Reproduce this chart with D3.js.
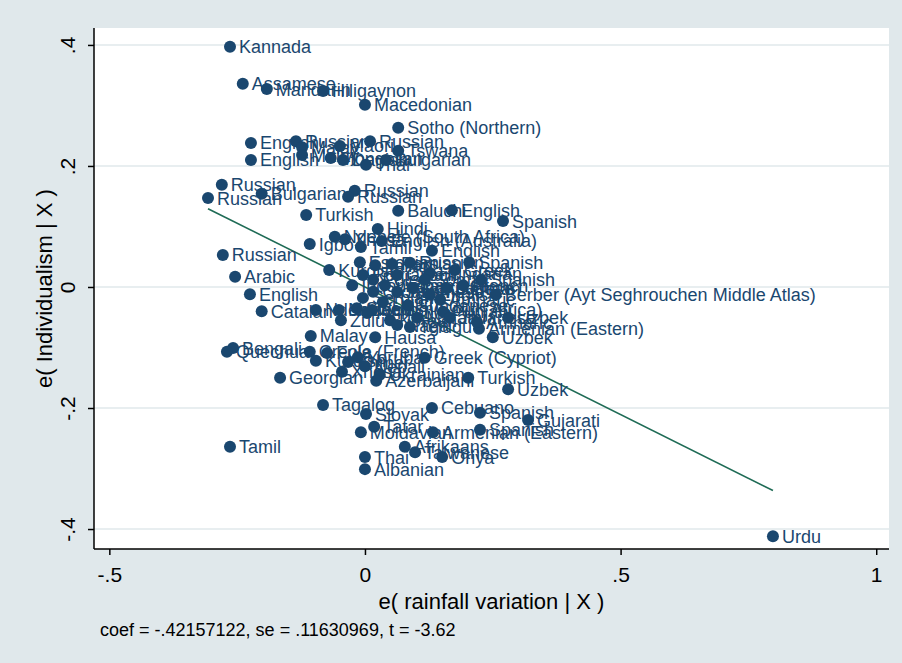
<!DOCTYPE html>
<html>
<head>
<meta charset="utf-8">
<script src="https://cdn.jsdelivr.net/npm/d3@7"></script>
<style>
  body { margin: 0; background: #e0e8eb; }
  svg { display: block; font-family: "Liberation Sans", Arial, Helvetica, sans-serif; }
</style>
</head>
<body>
<div id="chart"></div>
<script>
// residuals
const languages = [
  "Kannada", "Assamese", "Mandarin", "Hiligaynon", "Macedonian", "Sotho (Northern)",
  "English", "Russian", "Malay", "Russian", "Maori", "Tswana",
  "English", "Malay", "Mongolian", "Danish", "Bulgarian", "Thai",
  "Russian", "Russian", "Bulgarian", "Russian", "Russian", "Turkish",
  "Baluchi", "English", "Spanish", "Hindi", "Igbo", "Ndebele (South Africa)",
  "Xhosa", "English (Australia)", "Tamil", "English", "Russian", "Arabic",
  "English", "Catalan", "Spanish", "Spanish", "Berber (Ayt Seghrouchen Middle Atlas)", "Uzbek",
  "Armenian (Eastern)", "Uzbek", "Kurdish", "Estonian", "Persian", "Malay",
  "Hausa", "Bengali", "Quechua", "Creole (French)", "Fula", "Kurdish",
  "Yoruba", "Khmer", "Xhosa", "Nepali", "Ukrainian", "Greek (Cypriot)",
  "Georgian", "Azerbaijani", "Turkish", "Uzbek", "Tagalog", "Slovak",
  "Cebuano", "Spanish", "Gujarati", "Tatar", "Moldavian", "Armenian (Eastern)",
  "Spanish", "Afrikaans", "Taiwanese", "Oriya", "Thai", "Albanian",
  "Tamil", "Urdu",
  // dense middle cluster
  "Italian", "Russian", "Romanian", "Polish", "Czech", "Hungarian",
  "Serbian", "Croatian", "Dutch", "Ndebele", "Swedish", "Finnish",
  "Korean", "Naga", "Telugu", "Marathi", "Punjabi", "Javanese",
  "Amharic", "English", "German", "French", "Portuguese", "Japanese",
  "Ndebele", "Zulu", "Sotho (South Africa)", "Vietnamese", "Indonesian", "Sundanese",
  "Somali", "Amharic", "Greek"
];
const eRainfall = [
  -0.264, -0.239, -0.192, -0.082, 0.000, 0.065,
  -0.223, -0.135, -0.123, 0.010, -0.049, 0.065,
  -0.223, -0.123, -0.067, -0.043, 0.041, 0.002,
  -0.280, -0.307, -0.202, -0.020, -0.033, -0.115,
  0.065, 0.170, 0.270, 0.025, -0.108, -0.059,
  -0.039, 0.033, -0.008, 0.131, -0.278, -0.254,
  -0.225, -0.202, 0.204, 0.227, 0.256, 0.280,
  0.223, 0.250, -0.070, -0.010, 0.053, -0.106,
  0.020, -0.258, -0.270, -0.108, -0.074, -0.096,
  -0.014, -0.033, -0.045, 0.000, 0.029, 0.117,
  -0.166, 0.022, 0.202, 0.280, -0.082, 0.002,
  0.131, 0.225, 0.319, 0.018, -0.008, 0.133,
  0.225, 0.078, 0.098, 0.151, 0.000, 0.000,
  -0.264, 0.798,
  0.020, 0.088, -0.004, 0.016, 0.063, 0.127,
  -0.004, 0.016, 0.035, -0.051, -0.016, 0.004,
  0.049, 0.063, 0.088, 0.102, 0.153, 0.166,
  0.219, 0.127, 0.160, 0.192, 0.094, 0.063,
  -0.096, -0.047, 0.014, 0.039, -0.025, 0.084,
  0.117, 0.147, 0.176
];
const eIndividualism = [
  0.397, 0.336, 0.327, 0.324, 0.301, 0.263,
  0.238, 0.241, 0.231, 0.241, 0.233, 0.225,
  0.210, 0.218, 0.213, 0.210, 0.210, 0.202,
  0.169, 0.147, 0.154, 0.159, 0.149, 0.119,
  0.126, 0.127, 0.109, 0.096, 0.071, 0.083,
  0.079, 0.076, 0.066, 0.060, 0.053, 0.017,
  -0.012, -0.040, 0.041, 0.012, -0.013, -0.051,
  -0.069, -0.083, 0.028, 0.041, 0.038, -0.081,
  -0.083, -0.101, -0.107, -0.107, -0.109, -0.122,
  -0.116, -0.124, -0.140, -0.131, -0.145, -0.117,
  -0.150, -0.155, -0.150, -0.169, -0.195, -0.210,
  -0.200, -0.208, -0.220, -0.231, -0.240, -0.240,
  -0.236, -0.264, -0.273, -0.281, -0.281, -0.301,
  -0.264, -0.412,
  0.036, 0.040, 0.020, 0.012, 0.020, 0.023,
  -0.018, -0.008, -0.025, -0.038, -0.035, -0.043,
  -0.055, -0.063, -0.066, -0.051, -0.041, -0.051,
  -0.058, -0.013, -0.002, 0.003, -0.002, -0.008,
  -0.038, -0.055, -0.038, 0.003, 0.003, -0.030,
  0.012, -0.021, 0.028
];
const coef = -0.42157122;
const xTicks = [-0.5, 0, 0.5, 1];
const xTickLabels = ["-.5", "0", ".5", "1"];
const yTicks = [-0.4, -0.2, 0, 0.2, 0.4];
const yTickLabels = ["-.4", "-.2", "0", ".2", ".4"];
const noteText = "coef = -.42157122, se = .11630969, t = -3.62";

const W = 902, H = 663;
const plot = { left: 94, right: 889, top: 28, bottom: 549 };
const navy = "#1a476f", bg = "#e0e8eb";

const svg = d3.select("#chart").append("svg")
  .attr("width", W).attr("height", H);

svg.append("rect").attr("width", W).attr("height", H).attr("fill", bg);
svg.append("rect")
  .attr("x", plot.left).attr("y", plot.top)
  .attr("width", plot.right - plot.left).attr("height", plot.bottom - plot.top)
  .attr("fill", "#fff");

const x = d3.scaleLinear().domain([-0.530, 1.025]).range([plot.left, plot.right]);
const y = d3.scaleLinear().domain([-0.433, 0.428]).range([plot.bottom, plot.top]);

// gridlines
svg.append("g").selectAll("line").data(yTicks).join("line")
  .attr("x1", plot.left).attr("x2", plot.right)
  .attr("y1", d => y(d)).attr("y2", d => y(d))
  .attr("stroke", bg).attr("stroke-width", 1.5);

const points = languages.map((name, i) => ({ name, x: eRainfall[i], y: eIndividualism[i] }));

// fitted line through the origin, over the data range
const xr = d3.extent(eRainfall);
svg.append("line")
  .attr("x1", x(xr[0])).attr("y1", y(coef * xr[0]))
  .attr("x2", x(xr[1])).attr("y2", y(coef * xr[1]))
  .attr("stroke", "#1e6b55").attr("stroke-width", 1.6);

const pts = svg.append("g");
pts.selectAll("circle").data(points).join("circle")
  .attr("cx", d => x(d.x)).attr("cy", d => y(d.y))
  .attr("r", 6).attr("fill", navy);

pts.selectAll("text").data(points).join("text")
  .attr("x", d => x(d.x) + 9).attr("y", d => y(d.y))
  .attr("dy", "0.36em")
  .attr("font-size", 18).attr("fill", navy)
  .text(d => d.name);

// axes
const xAxis = d3.axisBottom(x).tickValues(xTicks)
  .tickFormat((d, i) => xTickLabels[i]).tickSize(6).tickPadding(12);
const gx = svg.append("g").attr("transform", `translate(0,${plot.bottom})`).call(xAxis);
gx.select(".domain").attr("d", `M${plot.left},0H${plot.right}`).attr("stroke-width", 1.5);
gx.selectAll(".tick line").attr("stroke-width", 1.5);
gx.selectAll(".tick text").attr("font-size", 21).attr("fill", "#000")
  .attr("font-family", "Liberation Sans, Arial, sans-serif");

const yAxis = d3.axisLeft(y).tickValues(yTicks)
  .tickFormat((d, i) => yTickLabels[i]).tickSize(6);
const gy = svg.append("g").attr("transform", `translate(${plot.left},0)`).call(yAxis);
gy.select(".domain").attr("d", `M0,${plot.top}V${plot.bottom}`).attr("stroke-width", 1.5);
gy.selectAll(".tick line").attr("stroke-width", 1.5);
gy.selectAll(".tick text")
  .attr("x", 0).attr("dy", 0)
  .attr("transform", "translate(-19,0) rotate(-90)")
  .attr("text-anchor", "middle")
  .attr("font-size", 21).attr("fill", "#000")
  .attr("font-family", "Liberation Sans, Arial, sans-serif");

// titles
svg.append("text")
  .attr("x", (plot.left + plot.right) / 2).attr("y", 609)
  .attr("text-anchor", "middle").attr("font-size", 22)
  .text("e( rainfall variation | X )");

svg.append("text")
  .attr("transform", `translate(52,${(plot.top + plot.bottom) / 2}) rotate(-90)`)
  .attr("text-anchor", "middle").attr("font-size", 22)
  .text("e( Individualism | X )");

svg.append("text")
  .attr("x", 100).attr("y", 636)
  .attr("font-size", 18)
  .text(noteText);
</script>
</body>
</html>
